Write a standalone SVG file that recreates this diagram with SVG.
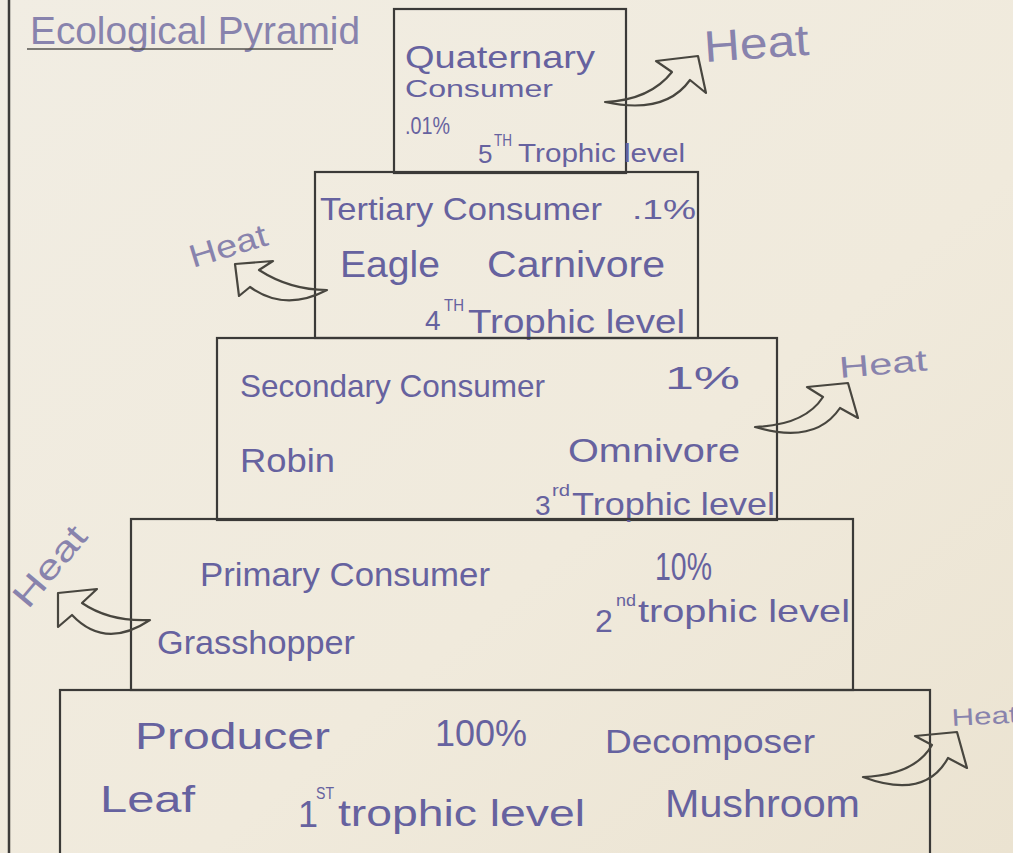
<svg xmlns="http://www.w3.org/2000/svg" width="1013" height="853" viewBox="0 0 1013 853">
<defs>
<linearGradient id="paper" x1="0" y1="0" x2="1" y2="1">
<stop offset="0" stop-color="#f1ede3"/>
<stop offset="0.6" stop-color="#f0eadc"/>
<stop offset="1" stop-color="#ebe3d1"/>
</linearGradient>
<style>
.box{fill:none;stroke:#3b3a38;stroke-width:2.2}
.ink{font-family:"Liberation Sans","DejaVu Sans",sans-serif;fill:#66629f}
.sup{font-family:"Liberation Sans","DejaVu Sans",sans-serif;fill:#66629f;font-size:16px}
.heat{font-family:"Liberation Sans","DejaVu Sans",sans-serif;fill:#8883ad}
.arrow{fill:none;stroke:#48463f;stroke-width:2.2;stroke-linejoin:round}
</style>
</defs>
<rect x="0" y="0" width="1013" height="853" fill="url(#paper)"/>
<line x1="9" y1="0" x2="9" y2="853" stroke="#3d3c3a" stroke-width="2.5"/>

<g id="title">
<text class="heat" x="30" y="44" font-size="38" textLength="330" lengthAdjust="spacingAndGlyphs">Ecological Pyramid</text>
<line x1="27" y1="49" x2="333" y2="49" stroke="#55534f" stroke-width="1.6"/>
</g>

<g id="quaternary">
<rect class="box" x="394" y="9" width="232" height="164"/>
<text class="ink" x="405" y="68" font-size="32" textLength="190" lengthAdjust="spacingAndGlyphs">Quaternary</text>
<text class="ink" x="405" y="97" font-size="24" textLength="148" lengthAdjust="spacingAndGlyphs">Consumer</text>
<text class="ink" x="405" y="134" font-size="24" textLength="45" lengthAdjust="spacingAndGlyphs">.01%</text>
<text class="ink" x="478" y="163" font-size="26">5</text>
<text class="sup" x="494" y="146" textLength="18" lengthAdjust="spacingAndGlyphs">TH</text>
<text class="ink" x="518" y="162" font-size="26" textLength="167" lengthAdjust="spacingAndGlyphs">Trophic level</text>
</g>

<g id="tertiary">
<rect class="box" x="315" y="172" width="383" height="166"/>
<text class="ink" x="320" y="220" font-size="32" textLength="282" lengthAdjust="spacingAndGlyphs">Tertiary Consumer</text>
<text class="ink" x="632" y="219" font-size="28" textLength="64" lengthAdjust="spacingAndGlyphs">.1%</text>
<text class="ink" x="340" y="277" font-size="36" textLength="100" lengthAdjust="spacingAndGlyphs">Eagle</text>
<text class="ink" x="487" y="277" font-size="36" textLength="178" lengthAdjust="spacingAndGlyphs">Carnivore</text>
<text class="ink" x="425" y="330" font-size="28">4</text>
<text class="sup" x="444" y="311" textLength="20" lengthAdjust="spacingAndGlyphs">TH</text>
<text class="ink" x="468" y="333" font-size="34" textLength="217" lengthAdjust="spacingAndGlyphs">Trophic level</text>
</g>

<g id="secondary">
<rect class="box" x="217" y="338" width="560" height="182"/>
<text class="ink" x="240" y="397" font-size="32" textLength="305" lengthAdjust="spacingAndGlyphs">Secondary Consumer</text>
<text class="ink" x="665" y="389" font-size="32" textLength="75" lengthAdjust="spacingAndGlyphs">1%</text>
<text class="ink" x="240" y="472" font-size="34" textLength="95" lengthAdjust="spacingAndGlyphs">Robin</text>
<text class="ink" x="568" y="462" font-size="34" textLength="172" lengthAdjust="spacingAndGlyphs">Omnivore</text>
<text class="ink" x="535" y="515" font-size="28">3</text>
<text class="sup" x="552" y="496" textLength="18" lengthAdjust="spacingAndGlyphs">rd</text>
<text class="ink" x="572" y="515" font-size="32" textLength="203" lengthAdjust="spacingAndGlyphs">Trophic level</text>
</g>

<g id="primary">
<rect class="box" x="131" y="519" width="722" height="171"/>
<text class="ink" x="200" y="586" font-size="34" textLength="290" lengthAdjust="spacingAndGlyphs">Primary Consumer</text>
<text class="ink" x="655" y="580" font-size="38" textLength="57" lengthAdjust="spacingAndGlyphs">10%</text>
<text class="ink" x="157" y="654" font-size="34" textLength="198" lengthAdjust="spacingAndGlyphs">Grasshopper</text>
<text class="ink" x="595" y="632" font-size="32">2</text>
<text class="sup" x="616" y="606" textLength="20" lengthAdjust="spacingAndGlyphs">nd</text>
<text class="ink" x="638" y="622" font-size="32" textLength="212" lengthAdjust="spacingAndGlyphs">trophic level</text>
</g>

<g id="producer">
<rect class="box" x="60" y="690" width="870" height="175"/>
<text class="ink" x="135" y="749" font-size="36" textLength="195" lengthAdjust="spacingAndGlyphs">Producer</text>
<text class="ink" x="435" y="746" font-size="36" textLength="92" lengthAdjust="spacingAndGlyphs">100%</text>
<text class="ink" x="605" y="753" font-size="34" textLength="210" lengthAdjust="spacingAndGlyphs">Decomposer</text>
<text class="ink" x="100" y="812" font-size="36" textLength="95" lengthAdjust="spacingAndGlyphs">Leaf</text>
<text class="ink" x="298" y="827" font-size="36">1</text>
<text class="sup" x="316" y="799" textLength="18" lengthAdjust="spacingAndGlyphs">ST</text>
<text class="ink" x="338" y="826" font-size="36" textLength="247" lengthAdjust="spacingAndGlyphs">trophic level</text>
<text class="ink" x="665" y="817" font-size="38" textLength="195" lengthAdjust="spacingAndGlyphs">Mushroom</text>
</g>

<g id="heat-labels">
<text class="heat" x="705" y="62" font-size="44" textLength="105" lengthAdjust="spacingAndGlyphs" transform="rotate(-4 705 62)">Heat</text>
<text class="heat" x="193" y="268" font-size="32" textLength="80" lengthAdjust="spacingAndGlyphs" transform="rotate(-17 193 268)">Heat</text>
<text class="heat" x="840" y="378" font-size="30" textLength="88" lengthAdjust="spacingAndGlyphs" transform="rotate(-5 840 378)">Heat</text>
<text class="heat" x="28" y="610" font-size="34" textLength="95" lengthAdjust="spacingAndGlyphs" transform="rotate(-50 28 610)">Heat</text>
<text class="heat" x="952" y="726" font-size="24" textLength="66" lengthAdjust="spacingAndGlyphs" transform="rotate(-3 952 726)">Heat</text>
</g>

<g id="connectors">
<path class="arrow" d="M605,102 Q650,100 672,72 L656,61 L698,56 L706,93 L690,80 Q665,115 605,102 Z"/>
<path class="arrow" d="M327,290 Q290,290 259,270 L273,261 L235,264 L239,296 L250,287 Q285,312 327,290 Z"/>
<path class="arrow" d="M755,427 Q805,425 823,397 L807,387 L848,383 L858,418 L840,408 Q815,445 755,427 Z"/>
<path class="arrow" d="M150,620 Q110,622 82,603 L97,589 L58,593 L58,627 L72,615 Q105,650 150,620 Z"/>
<path class="arrow" d="M863,777 Q915,775 932,745 L915,736 L957,732 L967,768 L948,758 Q925,800 863,777 Z"/>
</g>
</svg>
